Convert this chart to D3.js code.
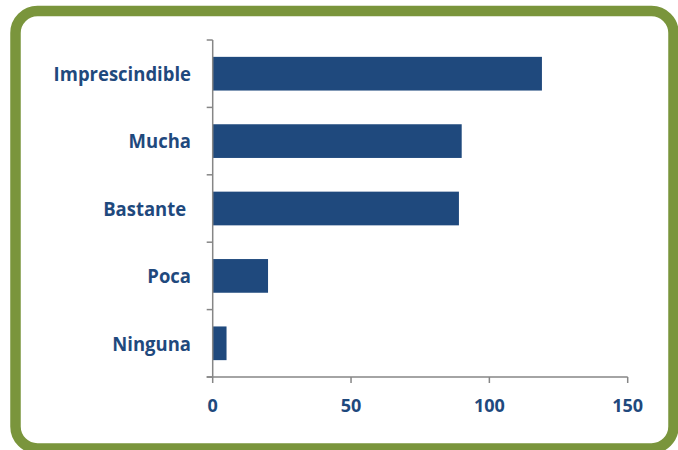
<!DOCTYPE html>
<html>
<head>
<meta charset="utf-8">
<script src="https://cdn.jsdelivr.net/npm/d3@7"></script>
<style>
html,body{margin:0;padding:0;background:#fff;}
svg{display:block;}
text{white-space:pre;}
</style>
</head>
<body>
<svg id="chart" width="678" height="450"></svg>
<script>
const categories = ["Imprescindible", "Mucha", "Bastante ", "Poca", "Ninguna"];
const values = [119, 90, 89, 20, 5];
const xTicks = [0, 50, 100, 150];

(function () {
const svg = d3.select("#chart");

// frame
svg.append("rect")
  .attr("x", 15.5).attr("y", 11)
  .attr("width", 658).attr("height", 437.5)
  .attr("rx", 22).attr("ry", 22)
  .attr("fill", "#fff")
  .attr("stroke", "#7a953c")
  .attr("stroke-width", 10.5);

const mL = 212.7, mR = 627.7, mT = 40, mB = 377;
const x = d3.scaleLinear().domain([0, 150]).range([mL, mR]);
const y = d3.scaleBand().domain(categories).range([mT, mB]).paddingInner(0.5).paddingOuter(0.25);

const axisColor = "#868686";
const textColor = "#1f497d";

// bars
svg.append("g").selectAll("rect").data(categories).join("rect")
  .attr("x", x(0))
  .attr("y", (d) => y(d))
  .attr("width", (d, i) => x(values[i]) - x(0))
  .attr("height", y.bandwidth())
  .attr("fill", "#1f497d");

// y axis line and ticks (between categories)
const gy = svg.append("g");
gy.append("line").attr("x1", mL).attr("x2", mL).attr("y1", mT).attr("y2", mB)
  .attr("stroke", axisColor).attr("stroke-width", 1.5);
const yTickPos = d3.range(categories.length + 1).map(i => mT + i * (mB - mT) / categories.length);
gy.selectAll("line.t").data(yTickPos).join("line").attr("class", "t")
  .attr("x1", mL - 6).attr("x2", mL).attr("y1", d => d).attr("y2", d => d)
  .attr("stroke", axisColor).attr("stroke-width", 1.5);
gy.selectAll("text").data(categories).join("text")
  .attr("transform", d => `translate(191,${y(d) + y.bandwidth() / 2 + 7.3}) scale(0.925,1)`)
  .attr("text-anchor", "end")
  .attr("font-family", "'Open Sans', sans-serif")
  .attr("font-weight", "bold")
  .attr("font-size", 20)
  .attr("fill", textColor)
  .text(d => d);

// x axis
const gx = svg.append("g").attr("transform", `translate(0,${mB})`);
gx.append("line").attr("x1", mL - 6).attr("x2", mR).attr("y1", 0).attr("y2", 0)
  .attr("stroke", axisColor).attr("stroke-width", 1.5);
gx.selectAll("line.t").data(xTicks).join("line").attr("class", "t")
  .attr("x1", d => x(d)).attr("x2", d => x(d)).attr("y1", 0).attr("y2", 6)
  .attr("stroke", axisColor).attr("stroke-width", 1.5);
gx.selectAll("text").data(xTicks).join("text")
  .attr("x", d => x(d))
  .attr("y", 34.5)
  .attr("text-anchor", "middle")
  .attr("font-family", "'Open Sans', sans-serif")
  .attr("font-weight", "bold")
  .attr("font-size", 18)
  .attr("fill", textColor)
  .text(d => d);
})();
</script>
</body>
</html>
